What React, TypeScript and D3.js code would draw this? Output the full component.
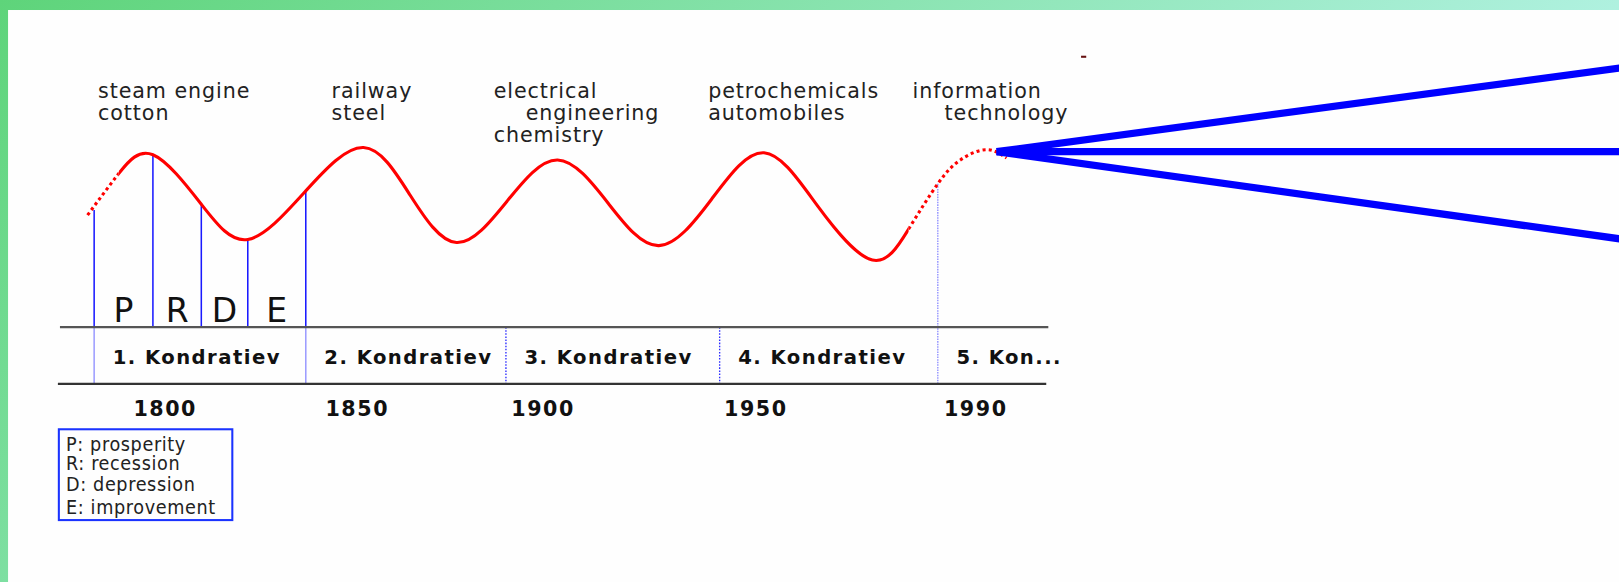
import React from "react";
import * as d3 from "d3";

// ---------- data ----------
const tickYears = [1800, 1850, 1900, 1950, 1990];
const waveNames = ["1. Kondratiev", "2. Kondratiev", "3. Kondratiev", "4. Kondratiev", "5. Kon..."];
const waveStartYears = [1781.5, 1836.6, 1890, 1941.5, 1983.1];

const innovationYears = [1782.5, 1843.3, 1886.7, 1938.8, 1978.5];
const innovationLines = [
  ["steam engine", "cotton"],
  ["railway", "steel"],
  ["electrical", "engineering", "chemistry"],
  ["petrochemicals", "automobiles"],
  ["information", "technology"],
];

// long-wave curve: start, peaks, mid-crossings, troughs, projected end
const curveYears = [
  1779.8, 1787.9, 1796.8, 1809.4, 1821.5, 1836.6, 1851.7, 1864.2, 1876.7, 1890.3,
  1903.4, 1915.3, 1927.2, 1939.6, 1951.5, 1961.3, 1971.2, 1977.8, 1983.1, 1987.2,
  1991.9, 1995.6,
];
const curveValues = [
  43.0, 76.5, 91.7, 51.7, 23.3, 62.5, 97.5, 59.2, 20.8, 54.2,
  87.5, 52.5, 18.3, 55.8, 93.3, 50.0, 6.7, 31.7, 68.3, 87.5,
  95.8, 89.0,
];
// observed (solid) stretch of the curve; outside it the curve is dotted
const solidFromYear = 1787.9;
const solidToYear = 1977.8;

const phaseLetters = ["P", "R", "D", "E"];
const phaseYears = [1781.5, 1796.8, 1809.4, 1821.5, 1836.6];
const phaseValues = [47.0, 91.7, 51.7, 23.3, 62.5];

const fanOriginYear = 1993.8;
const fanOriginValue = 94.2;
const fanEndYear = 2110;
const fanEndValues = [163.5, 94.2, 22.0];

const axisYears = [1772.6, 2003.2];

const legendItems = ["P: prosperity", "R: recession", "D: depression", "E: improvement"];

// ---------- layout ----------
const W = 1568;
const H = 564;
const axisTop = 317;
const axisBottom = 372;

export default function App() {
  const x = d3.scaleLinear().domain(tickYears).range([160, 346, 526, 732, 945]);
  const y = d3.scaleLinear().domain([0, 100]).range([260, 140]);

  const line = d3
    .line<[number, number]>()
    .x((d) => x(d[0]))
    .y((d) => y(d[1]))
    .curve(d3.curveNatural);

  const pts = curveYears.map((v, i) => [v, curveValues[i]] as [number, number]);
  const wave = line(pts) || "";
  const xs0 = x(solidFromYear);
  const xs1 = x(solidToYear);

  const font = "'DejaVu Sans', Verdana, sans-serif";

  return (
    <svg
      width={1619}
      height={582}
      viewBox={`0 0 ${W} ${H}`}
      preserveAspectRatio="none"
      style={{ position: "absolute", left: 0, top: 0, display: "block" }}
    >
      <defs>
        <linearGradient id="frame" gradientUnits="userSpaceOnUse" x1={0} y1={0} x2={803} y2={868}>
          <stop offset="0" stopColor="#5ed47a" />
          <stop offset="1" stopColor="#b8f4ea" />
        </linearGradient>
        <clipPath id="solidClip">
          <rect x={xs0} y={0} width={xs1 - xs0} height={H} />
        </clipPath>
        <clipPath id="dotClip">
          <rect x={0} y={0} width={xs0} height={H} />
          <rect x={xs1} y={0} width={W - xs1} height={H} />
        </clipPath>
      </defs>
      <rect x={0} y={0} width={W} height={H} fill="url(#frame)" />
      <rect x={7.8} y={9.7} width={W} height={H} fill="#fefefe" />

      {/* innovation labels */}
      {innovationLines.map((lines, i) => (
        <text
          key={"in" + i}
          x={x(innovationYears[i])}
          y={95}
          fontFamily={font}
          fontSize={20}
          letterSpacing={0.9}
          fill="#222"
        >
          {lines.map((t, j) => (
            <tspan
              key={j}
              x={x(innovationYears[i]) + ((i === 2 || i === 4) && j === 1 ? 31 : 0)}
              dy={j === 0 ? 0 : 21.5}
            >
              {t}
            </tspan>
          ))}
        </text>
      ))}

      {/* tiny mark */}
      <rect x={1047} y={54} width={5} height={2} fill="#661111" />

      {/* phase verticals for first wave */}
      {phaseYears.map((yr, i) => (
        <line
          key={"pv" + i}
          x1={x(yr)}
          x2={x(yr)}
          y1={y(phaseValues[i])}
          y2={axisTop}
          stroke="#1a1aff"
          strokeWidth={1.5}
        />
      ))}
      {[phaseYears[0], phaseYears[phaseYears.length - 1]].map((yr, i) => (
        <line
          key={"pvb" + i}
          x1={x(yr)}
          x2={x(yr)}
          y1={axisTop}
          y2={axisBottom}
          stroke="#9d9dff"
          strokeWidth={1.5}
        />
      ))}
      {/* wave boundaries */}
      {waveStartYears.slice(2, 4).map((yr, i) => (
        <line
          key={"wb" + i}
          x1={x(yr)}
          x2={x(yr)}
          y1={axisTop}
          y2={axisBottom}
          stroke="#2a2aff"
          strokeWidth={1.3}
          strokeDasharray="1.5 1.5"
        />
      ))}
      <line
        x1={x(waveStartYears[4])}
        x2={x(waveStartYears[4])}
        y1={y(68.3)}
        y2={axisBottom}
        stroke="#8f8fff"
        strokeWidth={1.3}
        strokeDasharray="1.5 1"
      />

      {/* phase letters */}
      {phaseLetters.map((p, i) => (
        <text
          key={"pl" + i}
          x={(x(phaseYears[i]) + x(phaseYears[i + 1])) / 2}
          y={312}
          textAnchor="middle"
          fontFamily={font}
          fontSize={32}
          fill="#111"
        >
          {p}
        </text>
      ))}

      {/* axis band */}
      <line x1={x(axisYears[0])} x2={x(axisYears[1])} y1={axisTop} y2={axisTop} stroke="#555" strokeWidth={2} />
      <line x1={x(axisYears[0]) - 2} x2={x(axisYears[1]) - 2} y1={axisBottom} y2={axisBottom} stroke="#333" strokeWidth={2} />

      {waveNames.map((n, i) => (
        <text
          key={"wn" + i}
          x={x(waveStartYears[i]) + 18}
          y={353}
          fontFamily={font}
          fontWeight="bold"
          fontSize={19}
          letterSpacing={1.4}
          fill="#111"
        >
          {n}
        </text>
      ))}

      {tickYears.map((t, i) => (
        <text
          key={"ty" + i}
          x={x(t)}
          y={403}
          textAnchor="middle"
          fontFamily={font}
          fontWeight="bold"
          fontSize={20}
          letterSpacing={1.5}
          fill="#111"
        >
          {t}
        </text>
      ))}

      {/* wave curve */}
      <path d={wave} fill="none" stroke="#ff0000" strokeWidth={3} strokeDasharray="3 3" clipPath="url(#dotClip)" />
      <path d={wave} fill="none" stroke="#ff0000" strokeWidth={3} clipPath="url(#solidClip)" />

      {/* fan of projections */}
      {fanEndValues.map((v, i) => (
        <line
          key={"fan" + i}
          x1={x(fanOriginYear)}
          y1={y(fanOriginValue)}
          x2={x(fanEndYear)}
          y2={y(v)}
          stroke="#0000ff"
          strokeWidth={7}
        />
      ))}

      {/* legend */}
      <rect x={57} y={416} width={168} height={88} fill="none" stroke="#1a33ff" strokeWidth={2} />
      {legendItems.map((t, i) => (
        <text
          key={"lg" + i}
          x={64}
          y={[437, 455, 476, 498][i]}
          fontFamily="'DejaVu Sans Condensed', 'DejaVu Sans', sans-serif"
          fontStretch="condensed"
          fontSize={19}
          letterSpacing={0.6}
          fill="#222"
        >
          {t}
        </text>
      ))}
    </svg>
  );
}
